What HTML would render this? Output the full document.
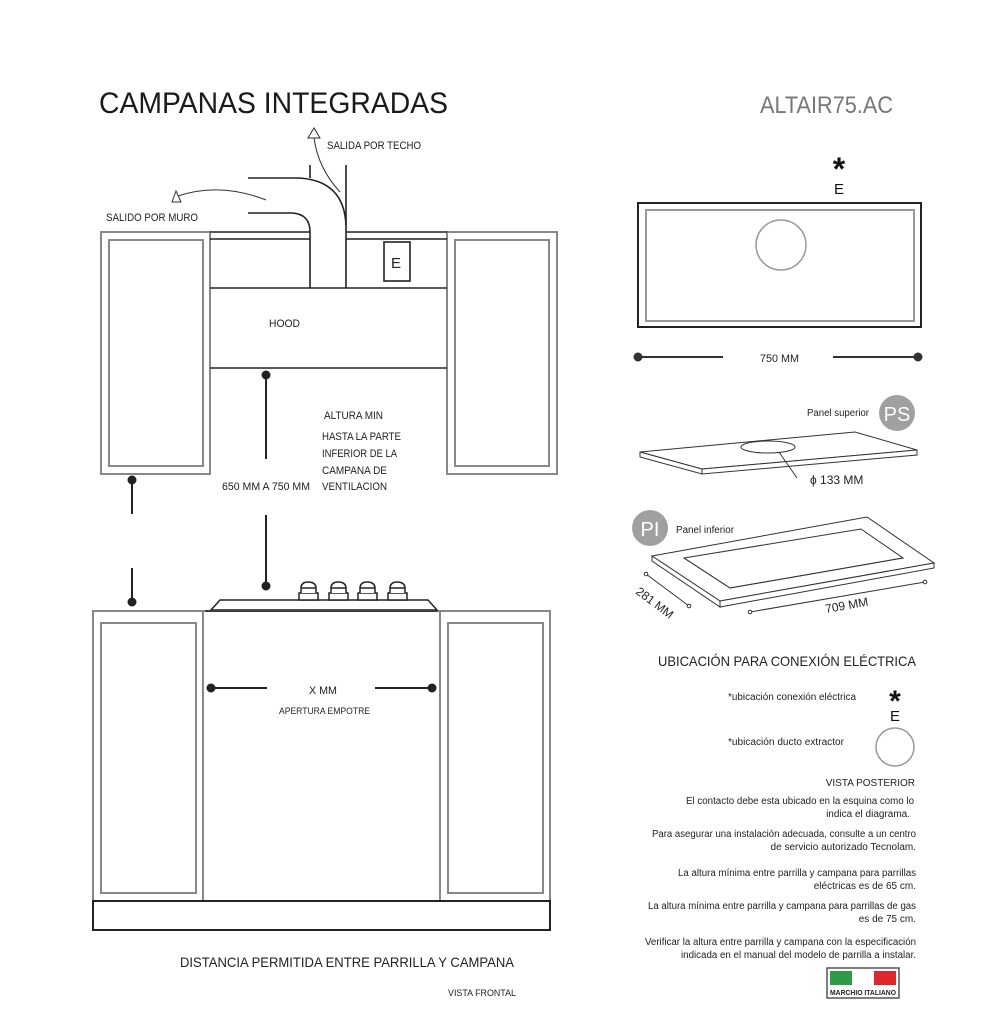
<!DOCTYPE html>
<html><head><meta charset="utf-8"><style>
html,body{margin:0;padding:0;background:#fff;}
svg{display:block;font-family:"Liberation Sans",sans-serif;}
</style></head><body>
<svg width="997" height="1024" viewBox="0 0 997 1024" xmlns="http://www.w3.org/2000/svg">
<rect width="997" height="1024" fill="#fff"/>
<text x="99" y="113" font-size="30" fill="#1a1a1a" textLength="349" lengthAdjust="spacingAndGlyphs">CAMPANAS INTEGRADAS</text>
<text x="760" y="113" font-size="24" fill="#777" textLength="133" lengthAdjust="spacingAndGlyphs">ALTAIR75.AC</text>

<g fill="none" stroke="#888" stroke-width="2">
<rect x="101" y="232" width="109" height="242"/>
<rect x="109" y="240" width="94" height="226"/>
<rect x="447" y="232" width="110" height="242"/>
<rect x="455" y="240" width="94" height="226"/>
</g>
<g fill="none" stroke="#222" stroke-width="1.6">
<line x1="210" y1="232" x2="310" y2="232"/><line x1="346" y1="232" x2="447" y2="232"/>
<line x1="210" y1="239" x2="310" y2="239"/><line x1="346" y1="239" x2="447" y2="239"/>
<line x1="210" y1="288" x2="447" y2="288"/>
<line x1="210" y1="368" x2="447" y2="368"/>
<line x1="310" y1="165" x2="310" y2="178"/>
<line x1="346" y1="165" x2="346" y2="288"/>
<path d="M248 178 H298 Q344 180 346 225"/>
<path d="M248 213 H292 Q310 214 310 232 V288"/>
<rect x="384" y="242" width="26" height="39"/>
</g>
<text x="391" y="268" font-size="15" fill="#222">E</text>
<g fill="none" stroke="#333" stroke-width="1">
<path d="M266 200 Q220 182 178 196"/>
<polygon points="172,202 181,202 176,191" fill="#fff"/>
<path d="M340 192 Q318 168 314 138"/>
<polygon points="308,138 320,138 314,128" fill="#fff"/>
</g>
<text x="327" y="149" font-size="11" fill="#222" textLength="94" lengthAdjust="spacingAndGlyphs">SALIDA POR TECHO</text>
<text x="106" y="221" font-size="11" fill="#222" textLength="92" lengthAdjust="spacingAndGlyphs">SALIDO POR MURO</text>
<text x="269" y="327" font-size="11" fill="#222" textLength="31" lengthAdjust="spacingAndGlyphs">HOOD</text>

<g stroke="#222" stroke-width="2" fill="#222">
<circle cx="266" cy="375" r="3.5"/><line x1="266" y1="375" x2="266" y2="459"/>
<line x1="266" y1="515" x2="266" y2="586"/><circle cx="266" cy="586" r="3.5"/>
<circle cx="132" cy="480" r="3.5"/><line x1="132" y1="480" x2="132" y2="514"/>
<line x1="132" y1="568" x2="132" y2="602"/><circle cx="132" cy="602" r="3.5"/>
<circle cx="211" cy="688" r="3.5"/><line x1="211" y1="688" x2="267" y2="688"/>
<line x1="375" y1="688" x2="432" y2="688"/><circle cx="432" cy="688" r="3.5"/>
</g>
<g font-size="11" fill="#222">
<text x="324" y="419" textLength="59" lengthAdjust="spacingAndGlyphs">ALTURA MIN</text>
<text x="322" y="440" textLength="79" lengthAdjust="spacingAndGlyphs">HASTA LA PARTE</text>
<text x="322" y="457" textLength="75" lengthAdjust="spacingAndGlyphs">INFERIOR DE LA</text>
<text x="322" y="474" textLength="65" lengthAdjust="spacingAndGlyphs">CAMPANA DE</text>
<text x="322" y="490" textLength="65" lengthAdjust="spacingAndGlyphs">VENTILACION</text>
<text x="222" y="490" textLength="88" lengthAdjust="spacingAndGlyphs">650 MM A 750 MM</text>
<text x="309" y="694" textLength="28" lengthAdjust="spacingAndGlyphs">X MM</text>
<text x="279" y="714" font-size="9" textLength="91" lengthAdjust="spacingAndGlyphs">APERTURA EMPOTRE</text>
</g>

<g fill="#fff" stroke="#222" stroke-width="1.5">
<polygon points="211,610 220,600 428,600 437,610"/>
<g id="k">
<rect x="299" y="593" width="19" height="7"/><path d="M301 593 V587 Q302 582 308 582 Q315 582 316 587 V593"/><line x1="301" y1="588" x2="316" y2="588"/>
</g>
<use href="#k" x="30"/><use href="#k" x="59"/><use href="#k" x="89"/>
</g>

<g fill="none" stroke="#888" stroke-width="2">
<rect x="93" y="611" width="457" height="290"/>
<line x1="203" y1="611" x2="203" y2="901"/><line x1="440" y1="611" x2="440" y2="901"/>
<rect x="101" y="623" width="95" height="270"/>
<rect x="448" y="623" width="95" height="270"/>
</g>
<line x1="205" y1="611" x2="438" y2="611" stroke="#222" stroke-width="1.5"/>
<rect x="93" y="901" width="457" height="29" fill="none" stroke="#222" stroke-width="2"/>
<text x="180" y="967" font-size="14" fill="#222" textLength="334" lengthAdjust="spacingAndGlyphs">DISTANCIA PERMITIDA ENTRE PARRILLA Y CAMPANA</text>
<text x="448" y="996" font-size="9" fill="#222" textLength="68" lengthAdjust="spacingAndGlyphs">VISTA FRONTAL</text>

<text x="839" y="180" font-size="32" font-weight="bold" fill="#111" text-anchor="middle">*</text>
<text x="839" y="194" font-size="15" fill="#111" text-anchor="middle">E</text>
<rect x="638" y="203" width="283" height="124" fill="none" stroke="#222" stroke-width="2"/>
<rect x="646" y="210" width="268" height="111" fill="none" stroke="#999" stroke-width="2"/>
<circle cx="781" cy="245" r="25" fill="none" stroke="#999" stroke-width="1.5"/>
<g stroke="#333" stroke-width="2" fill="#333">
<circle cx="638" cy="357" r="3.5"/><line x1="638" y1="357" x2="723" y2="357"/>
<line x1="833" y1="357" x2="918" y2="357"/><circle cx="918" cy="357" r="3.5"/>
</g>
<text x="760" y="362" font-size="11" fill="#222" textLength="39" lengthAdjust="spacingAndGlyphs">750 MM</text>

<circle cx="897" cy="413" r="18" fill="#a0a0a0"/>
<text x="897" y="421" font-size="20" fill="#fff" text-anchor="middle">PS</text>
<text x="807" y="416" font-size="10" fill="#222" textLength="62" lengthAdjust="spacingAndGlyphs">Panel superior</text>
<g fill="#fff" stroke="#333" stroke-width="1">
<polygon points="640,452 855,432 917,450 702,469"/>
<polygon points="640,452 702,469 702,474 640,457"/>
<polygon points="702,469 917,450 917,455 702,474"/>
<ellipse cx="768" cy="447" rx="27" ry="6"/>
<line x1="779" y1="452" x2="797" y2="478"/>
</g>
<text x="810" y="484" font-size="12" fill="#222">ϕ  133 MM</text>

<circle cx="650" cy="528" r="18" fill="#a0a0a0"/>
<text x="650" y="536" font-size="20" fill="#fff" text-anchor="middle">PI</text>
<text x="676" y="533" font-size="10" fill="#222" textLength="58" lengthAdjust="spacingAndGlyphs">Panel inferior</text>
<g fill="#fff" stroke="#333" stroke-width="1">
<polygon points="652,556 867,517 934,563 720,601"/>
<polygon points="652,556 720,601 720,607 652,561"/>
<polygon points="720,601 934,563 934,568 720,607"/>
<polygon points="684,558 861,529 903,558 730,588"/>
<polyline points="684,558 730,588 903,558" fill="none"/>
<line x1="646" y1="574" x2="689" y2="606"/>
<line x1="750" y1="612" x2="925" y2="582"/>
</g>
<g fill="#fff" stroke="#333"><circle cx="646" cy="574" r="1.8"/><circle cx="689" cy="606" r="1.8"/><circle cx="750" cy="612" r="1.8"/><circle cx="925" cy="582" r="1.8"/></g>
<text x="0" y="0" font-size="12" fill="#222" transform="translate(635,593) rotate(37)">281 MM</text>
<text x="0" y="0" font-size="12" fill="#222" transform="translate(826,613) rotate(-10)">709 MM</text>

<text x="658" y="666" font-size="14" fill="#222" textLength="258" lengthAdjust="spacingAndGlyphs">UBICACIÓN PARA CONEXIÓN ELÉCTRICA</text>
<text x="728" y="700" font-size="10" fill="#222" textLength="128" lengthAdjust="spacingAndGlyphs">*ubicación conexión eléctrica</text>
<text x="895" y="711" font-size="30" font-weight="bold" fill="#111" text-anchor="middle">*</text>
<text x="895" y="721" font-size="15" fill="#111" text-anchor="middle">E</text>
<text x="728" y="745" font-size="10" fill="#222" textLength="116" lengthAdjust="spacingAndGlyphs">*ubicación ducto extractor</text>
<circle cx="895" cy="747" r="19" fill="none" stroke="#999" stroke-width="1.5"/>
<g font-size="10" fill="#222" text-anchor="end">
<text x="915" y="786">VISTA POSTERIOR</text>
<text x="914" y="804" textLength="228" lengthAdjust="spacingAndGlyphs">El contacto debe esta ubicado en la esquina como lo</text>
<text x="910" y="817">indica el diagrama.</text>
<text x="916" y="837" textLength="264" lengthAdjust="spacingAndGlyphs">Para asegurar una instalación adecuada, consulte a un centro</text>
<text x="916" y="850">de servicio autorizado Tecnolam.</text>
<text x="916" y="876" textLength="238" lengthAdjust="spacingAndGlyphs">La altura mínima entre parrilla y campana para parrillas</text>
<text x="916" y="889">eléctricas es de 65 cm.</text>
<text x="916" y="909" textLength="268" lengthAdjust="spacingAndGlyphs">La altura mínima entre parrilla y campana para parrillas de gas</text>
<text x="916" y="922">es de 75 cm.</text>
<text x="916" y="945" textLength="271" lengthAdjust="spacingAndGlyphs">Verificar la altura entre parrilla y campana con la especificación</text>
<text x="916" y="958" textLength="235" lengthAdjust="spacingAndGlyphs">indicada en el manual del modelo de parrilla a instalar.</text>
</g>
<rect x="827" y="968" width="72" height="30" fill="#fff" stroke="#555" stroke-width="1.5"/>
<rect x="830" y="971" width="22" height="14" fill="#2e9b45"/>
<rect x="852" y="971" width="22" height="14" fill="#fff"/>
<rect x="874" y="971" width="22" height="14" fill="#e0262b"/>
<text x="863" y="995" font-size="7" font-weight="bold" fill="#222" text-anchor="middle" textLength="66" lengthAdjust="spacingAndGlyphs">MARCHIO ITALIANO</text>
</svg>
</body></html>
